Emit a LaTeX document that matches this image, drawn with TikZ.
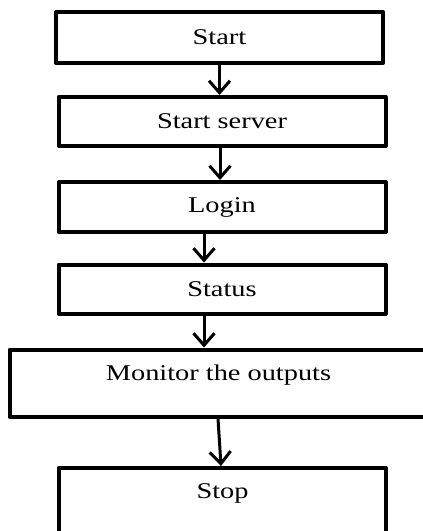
\documentclass[tikz,border=0pt]{standalone}
\usepackage{fontspec}
\setmainfont{Liberation Serif}
\usepackage{graphicx}
\usetikzlibrary{arrows.meta,positioning}
% text in the reference is set a little wide
\newcommand{\wide}[1]{\scalebox{1.26}[1]{#1}}
\begin{document}
\begin{tikzpicture}[x=1pt,y=-1pt,line join=round,font=\fontsize{22.5}{27}\selectfont,
	>={Straight Barb[length=12pt,width=21pt]},
	procbox/.style={draw,line width=4pt,minimum width=327pt,inner sep=0pt},
	flow/.style={->,line width=3pt}]
	\useasboundingbox (0,0) rectangle (423,531);
	% the steps
	\node[procbox,minimum height=51pt] (start) at (219.5,37.5) {\wide{Start}};
	\node[procbox,minimum height=49pt] (server) at (222,121.5) {\wide{Start server}};
	\node[procbox,minimum height=50pt] (login) at (222,207) {\wide{Login}};
	\node[procbox,minimum height=49pt] (status) at (222,289) {\wide{Status}};
	\node[procbox,minimum width=431pt,minimum height=67pt] (monitor) at (225,383) {};
	\node[anchor=base] (monitortext) at (218.5,380) {\wide{Monitor the outputs}};
	\node[procbox,minimum height=92pt] (stop) at (222,514) {};
	\node[anchor=base] (stoptext) at (222.5,498.5) {\wide{Stop}};
	% arrows between the steps
	\draw[flow] (start.south) -- (start.south |- server.north);
	\draw[flow] ([xshift=-2pt]server.south) -- ([xshift=-2pt]login.north);
	\draw[flow] ([xshift=-18pt]login.south) -- ([xshift=-18pt]status.north);
	\draw[flow] ([xshift=-18pt]status.south) -- ([xshift=-21pt]monitor.north);
	\draw[flow] ([xshift=-7pt]monitor.south) -- ([xshift=-1pt]stop.north);
\end{tikzpicture}
\end{document}
